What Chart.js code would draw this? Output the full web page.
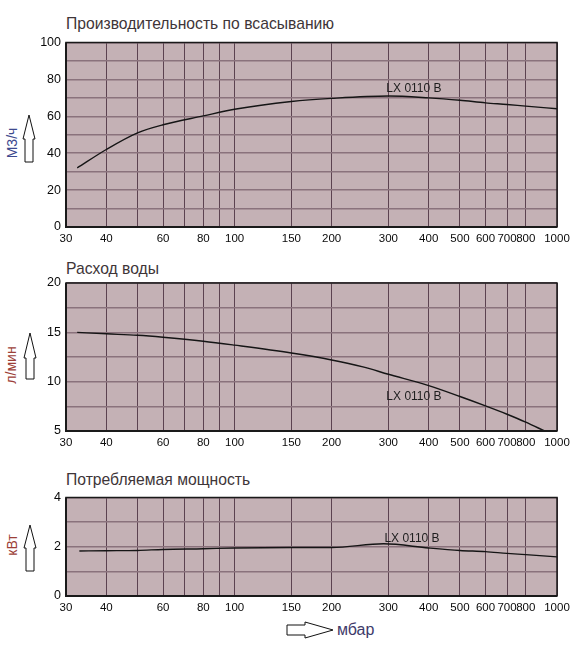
<!DOCTYPE html>
<html>
<head>
<meta charset="utf-8">
<script src="https://cdn.jsdelivr.net/npm/chart.js@4.4.1/dist/chart.umd.min.js"></script>
<style>
  html,body{margin:0;padding:0;background:#fff;}
  body{width:588px;height:653px;position:relative;overflow:hidden;font-family:"Liberation Sans",Arial,sans-serif;}
  canvas{position:absolute;left:0;}
  .t{position:absolute;font-size:15.7px;line-height:16px;color:#3e3538;white-space:nowrap;}
  .yl{position:absolute;font-size:14px;line-height:14px;white-space:nowrap;transform:translate(-50%,-50%) rotate(-90deg);}
  svg{position:absolute;left:0;top:0;pointer-events:none;}
</style>
</head>
<body>
<div class="t" style="left:66px;top:16px;">Производительность по всасыванию</div>
<div class="t" style="left:66px;top:261px;">Расход воды</div>
<div class="t" style="left:66px;top:472px;">Потребляемая мощность</div>
<div class="yl" style="left:12px;top:143px;color:#3e4a8e;">М3/ч</div>
<div class="yl" style="left:11px;top:365px;color:#9c3f38;">л/мин</div>
<div class="yl" style="left:12px;top:545px;color:#9c3f38;">кВт</div>
<div class="t" style="left:337px;top:622px;font-size:16px;line-height:16px;color:#3e3a6a;">мбар</div>
<svg width="588" height="653">
  <polygon points="25,162 25,139 23,139 29,115 35,139 33,139 33,162" fill="#fff" stroke="#111" stroke-width="1"/>
  <polygon points="26,379 26,358 24,358 30,333 36,358 34,358 34,379" fill="#fff" stroke="#111" stroke-width="1"/>
  <polygon points="26,571 26,548 24,548 30,525 36,548 34,548 34,571" fill="#fff" stroke="#111" stroke-width="1"/>
  <polygon points="287,625 305,625 305,622 333,630 305,638 305,635 287,635" fill="#fff" stroke="#111" stroke-width="1"/>
</svg>
<canvas id="c1" width="588" height="230" style="top:30px;width:588px;height:230px;"></canvas>
<canvas id="c2" width="588" height="185" style="top:270px;width:588px;height:185px;"></canvas>
<canvas id="c3" width="588" height="135" style="top:485px;width:588px;height:135px;"></canvas>
<script>
// ---- data ----
const xGridValues = [30,40,50,60,70,80,90,100,150,200,300,400,500,600,700,800,1000];
const xTickLabels = [30,40,60,80,100,150,200,300,400,500,600,700,800,1000];

const suctionPressure = [32.5,40,50,60,80,100,150,200,300,400,500,600,700,800,1000];
const suctionCapacity = [32,42,51,55.4,60.2,63.8,68,69.7,71,70,68.7,67.3,66.4,65.5,64.1];

const waterPressure = [32.5,40,50,60,80,100,150,200,250,300,400,500,600,700,800,915];
const waterFlow = [15.0,14.85,14.7,14.5,14.1,13.7,12.9,12.2,11.5,10.75,9.6,8.5,7.55,6.7,5.9,5.0];

const powerPressure = [33,40,50,60,80,100,150,200,290,400,500,600,700,800,1000];
const powerValues = [1.83,1.84,1.85,1.89,1.92,1.95,1.97,1.97,2.12,1.95,1.85,1.8,1.73,1.68,1.59];

const seriesName = "LX 0110 B";
const labelPos1 = [360, 75];
const labelPos2 = [360, 8.45];
const labelPos3 = [355, 2.32];

// ---- helpers ----
const FONT = '"Liberation Sans", Arial, sans-serif';

const panelPlugin = {
  id: 'panel',
  beforeDraw(chart) {
    const a = chart.chartArea, ctx = chart.ctx;
    ctx.save();
    ctx.fillStyle = '#c4b1b5';
    ctx.fillRect(a.left, a.top, a.right - a.left, a.bottom - a.top);
    ctx.restore();
  },
  afterDraw(chart) {
    const a = chart.chartArea, ctx = chart.ctx;
    ctx.save();
    ctx.strokeStyle = '#1a1a1a';
    ctx.lineWidth = 1.5;
    ctx.strokeRect(a.left, a.top, a.right - a.left, a.bottom - a.top);
    ctx.lineWidth = 2;
    ctx.beginPath();
    ctx.moveTo(a.left, a.top); ctx.lineTo(a.left, a.bottom); ctx.lineTo(a.right, a.bottom);
    ctx.stroke();
    const lp = chart.options.plugins.panel.label;
    if (lp) {
      const x = chart.scales.x.getPixelForValue(lp[0]);
      const y = chart.scales.y.getPixelForValue(lp[1]);
      ctx.fillStyle = '#1e1e1e';
      ctx.font = '12px ' + FONT;
      ctx.textAlign = 'center';
      ctx.textBaseline = 'middle';
      ctx.fillText(seriesName, x, y);
    }
    ctx.restore();
  }
};

function makeChart(id, xs, ys, yMin, yMax, yStep, yLabelEvery, label, padTop, padBottom) {
  const pts = xs.map((x, i) => ({x: x, y: ys[i]}));
  return new Chart(document.getElementById(id), {
    type: 'line',
    data: {
      datasets: [{
        data: pts,
        borderColor: '#151515',
        borderWidth: 1.4,
        pointRadius: 0,
        cubicInterpolationMode: 'monotone',
        fill: false
      }]
    },
    plugins: [panelPlugin],
    options: {
      responsive: false,
      animation: false,
      layout: {padding: {left: 0, right: 31, top: padTop, bottom: padBottom}},
      plugins: {
        legend: {display: false},
        tooltip: {enabled: false},
        panel: {label: label}
      },
      scales: {
        x: {
          type: 'logarithmic',
          min: 30, max: 1000,
          afterBuildTicks: (s) => { s.ticks = xGridValues.map(v => ({value: v})); },
          afterFit: (s) => { s.height = 20; },
          border: {display: false},
          grid: {color: '#5c4250', lineWidth: 1, drawTicks: false},
          ticks: {
            autoSkip: false, maxRotation: 0, minRotation: 0, padding: 5,
            color: '#0a0a0a', font: {family: FONT, size: 11.5},
            callback: (v) => xTickLabels.includes(v) ? String(v) : ''
          }
        },
        y: {
          min: yMin, max: yMax,
          afterFit: (s) => { s.width = 66; },
          border: {display: false},
          grid: {color: '#8a727c', lineWidth: 1.5, drawTicks: false},
          ticks: {
            stepSize: yStep, padding: 5,
            color: '#0a0a0a', font: {family: FONT, size: 12.5},
            callback: (v) => (Math.abs(((v - yMin) / yLabelEvery) - Math.round((v - yMin) / yLabelEvery)) < 1e-6) ? String(v) : ''
          }
        }
      }
    }
  });
}

makeChart('c1', suctionPressure, suctionCapacity, 0, 100, 10, 20, labelPos1, 11, 13);
makeChart('c2', waterPressure, waterFlow, 5, 20, 2.5, 5, labelPos2, 13, 4);
makeChart('c3', powerPressure, powerValues, 0, 4, 1, 2, labelPos3, 11, 4);
</script>
</body>
</html>
